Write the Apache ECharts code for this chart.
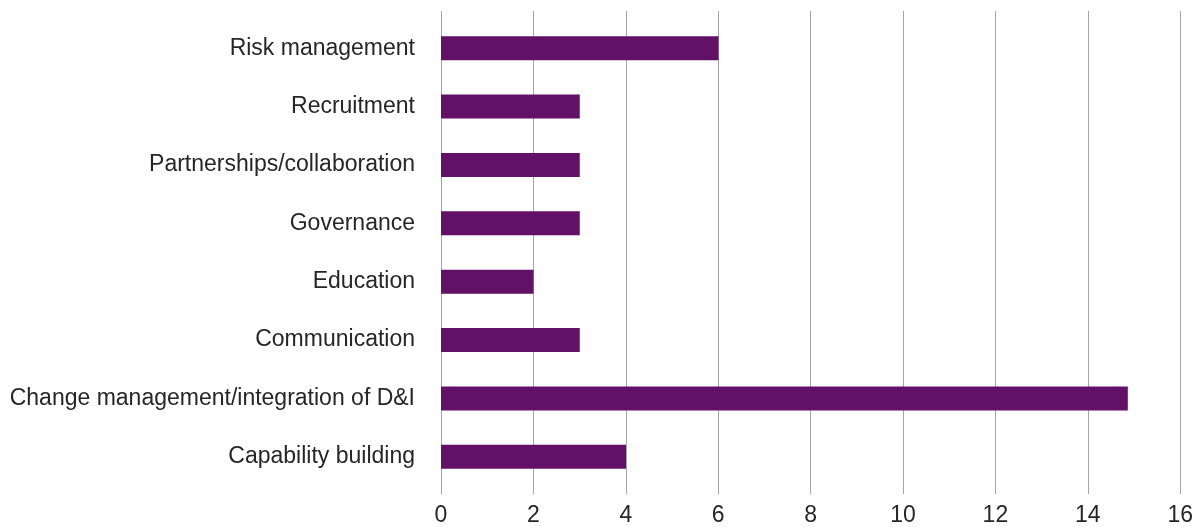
<!DOCTYPE html>
<html>
<head>
<meta charset="utf-8">
<script src="https://cdn.jsdelivr.net/npm/echarts@6/dist/echarts.min.js"></script>
<style>
  html, body { margin: 0; padding: 0; background: #fff; }
  #chart { width: 1196px; height: 527px; }
</style>
</head>
<body>
<div id="chart"></div>
<script>
// categories listed bottom to top (echarts category y axis starts at bottom)
var categories = [
    'Capability building',
    'Change management/integration of D&I',
    'Communication',
    'Education',
    'Governance',
    'Partnerships/collaboration',
    'Recruitment',
    'Risk management'
];
var counts = [4, 14.85, 3, 2, 3, 3, 3, 6];

var xMin = 0, xMax = 16, xStep = 2;

var chart = echarts.init(document.getElementById('chart'));

var option = {
    animation: false,
    textStyle: { fontFamily: 'Liberation Sans, Arial, sans-serif' },
    grid: [
        // bars
        { left: 441, right: 15, top: 19, bottom: 41 },
        // gridlines + tick labels, a bit taller than the bars area
        { left: 441, right: 15, top: 11, bottom: 30 }
    ],
    xAxis: [
        {
            gridIndex: 0,
            type: 'value',
            min: xMin, max: xMax, interval: xStep,
            axisLine: { show: false },
            axisTick: { show: false },
            axisLabel: { show: false },
            splitLine: { show: false }
        },
        {
            gridIndex: 1,
            type: 'value',
            min: xMin, max: xMax, interval: xStep,
            axisLine: { show: false },
            axisTick: { show: false },
            axisLabel: { color: '#262626', fontSize: 23, margin: 10 },
            splitLine: { show: true, lineStyle: { color: '#a6a6a6', width: 1 } }
        }
    ],
    yAxis: [
        {
            gridIndex: 0,
            type: 'category',
            data: categories,
            axisLine: { show: false },
            axisTick: { show: false },
            axisLabel: { color: '#262626', fontSize: 23, margin: 26 }
        },
        {
            gridIndex: 1,
            type: 'value',
            show: false
        }
    ],
    series: [
        {
            type: 'bar',
            xAxisIndex: 0,
            yAxisIndex: 0,
            data: counts,
            barWidth: 24,
            itemStyle: { color: '#621166' }
        }
    ]
};
chart.setOption(option);
</script>
</body>
</html>
